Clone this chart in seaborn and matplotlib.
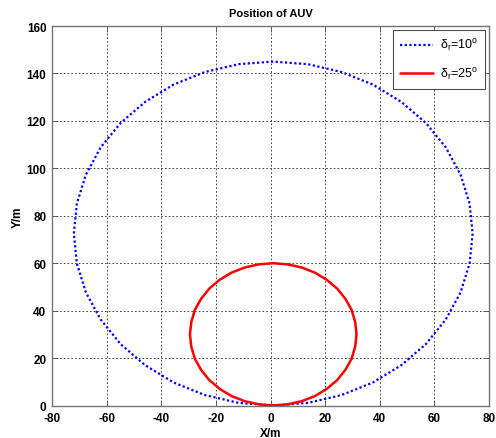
import matplotlib
matplotlib.use("Agg")
import matplotlib.pyplot as plt
import seaborn as sns
import pandas as pd

# Turning trajectories of the AUV for two rudder angles (X/m, Y/m)
x_rudder10 = [1, 13.7, 26.0, 37.5, 47.9, 56.9, 64.2, 69.6, 72.9, 74.0, 72.9, 69.6,
              64.2, 56.9, 47.9, 37.5, 26.0, 13.7, 1.0, -11.7, -24.0, -35.5, -45.9,
              -54.9, -62.2, -67.6, -70.9, -72.0, -70.9, -67.6, -62.2, -54.9, -45.9,
              -35.5, -24.0, -11.7, 1.0]
y_rudder10 = [0, 1.1, 4.4, 9.7, 17.0, 25.9, 36.3, 47.7, 59.9, 72.5, 85.1, 97.3,
              108.8, 119.1, 128.0, 135.3, 140.6, 143.9, 145.0, 143.9, 140.6, 135.3,
              128.0, 119.1, 108.8, 97.3, 85.1, 72.5, 59.9, 47.7, 36.3, 25.9, 17.0,
              9.7, 4.4, 1.1, 0]
x_rudder25 = [1.0, 6.3, 11.4, 16.3, 20.6, 24.4, 27.4, 29.7, 31.0, 31.5, 31.0, 29.7,
              27.4, 24.4, 20.6, 16.3, 11.4, 6.3, 1.0, -4.3, -9.4, -14.3, -18.6,
              -22.4, -25.4, -27.7, -29.0, -29.5, -29.0, -27.7, -25.4, -22.4, -18.6,
              -14.3, -9.4, -4.3, 1.0]
y_rudder25 = [0.0, 0.5, 1.8, 4.0, 7.0, 10.7, 15.0, 19.7, 24.8, 30.0, 35.2, 40.3,
              45.0, 49.3, 53.0, 56.0, 58.2, 59.5, 60.0, 59.5, 58.2, 56.0, 53.0,
              49.3, 45.0, 40.3, 35.2, 30.0, 24.8, 19.7, 15.0, 10.7, 7.0, 4.0, 1.8,
              0.5, 0.0]

labels = [r"δ$_{r}$=10$^{o}$", r"δ$_{r}$=25$^{o}$"]
x_ticks = [-80, -60, -40, -20, 0, 20, 40, 60, 80]
y_ticks = [0, 20, 40, 60, 80, 100, 120, 140, 160]

sns.set_style("white")
plt.rcParams["font.family"] = ["Liberation Sans", "DejaVu Sans"]
plt.rcParams["mathtext.fontset"] = "custom"
plt.rcParams["mathtext.rm"] = "Liberation Sans"
plt.rcParams["mathtext.it"] = "Liberation Sans"
plt.rcParams["text.color"] = "black"
plt.rcParams["axes.labelcolor"] = "black"
plt.rcParams["xtick.color"] = "black"
plt.rcParams["ytick.color"] = "black"

df10 = pd.DataFrame({"x": x_rudder10, "y": y_rudder10})
df25 = pd.DataFrame({"x": x_rudder25, "y": y_rudder25})

fig = plt.figure(figsize=(4.96, 4.39), dpi=100)
ax = fig.add_axes([52 / 496, 1 - 406.5 / 439, 437 / 496, 379.5 / 439])

sns.lineplot(data=df10, x="x", y="y", sort=False, estimator=None, ax=ax,
             color="#0000ff", linewidth=1.6, linestyle=(0, (1, 1.1)),
             label=labels[0])
sns.lineplot(data=df25, x="x", y="y", sort=False, estimator=None, ax=ax,
             color="#ff0000", linewidth=1.8, solid_joinstyle="round",
             label=labels[1])

ax.set_xlim(-80, 80)
ax.set_ylim(0, 160)
ax.set_xticks(x_ticks)
ax.set_yticks(y_ticks)
ax.set_xticklabels([str(v) for v in x_ticks], fontsize=8.5, fontweight="bold")
ax.set_yticklabels([str(v) for v in y_ticks], fontsize=8.5, fontweight="bold")
ax.tick_params(axis="both", direction="in", length=4, width=0.6,
               top=True, right=True, bottom=True, left=True)
ax.tick_params(axis="both", which="both", color="0.3")
ax.tick_params(axis="x", pad=5)
ax.tick_params(axis="y", pad=4)

ax.grid(True, color="0.15", linestyle=(0, (2, 2.5)), linewidth=0.6)
ax.set_axisbelow(True)
for s in ax.spines.values():
    s.set_visible(True)
    s.set_color("0.45")
    s.set_linewidth(1.0)

ax.set_xlabel("X/m", fontsize=8.5, fontweight="bold", labelpad=2)
ax.set_ylabel("Y/m", fontsize=8.5, fontweight="bold", labelpad=2)
ax.set_title("Position of AUV", fontsize=8, fontweight="bold", pad=7)

leg = ax.legend(loc="upper right", fontsize=9, frameon=True, fancybox=False,
                handlelength=2.7, handletextpad=0.5, borderpad=0.55,
                labelspacing=1.0, borderaxespad=0.35)
leg.get_frame().set_edgecolor("0.3")
leg.get_frame().set_linewidth(0.8)
leg.get_frame().set_alpha(1)

fig.savefig("out.png", dpi=100)
